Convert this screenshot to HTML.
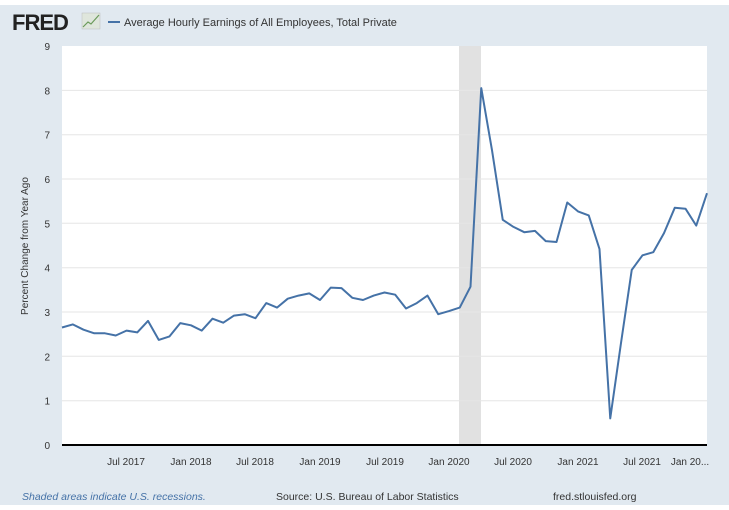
<!DOCTYPE html>
<html><head><meta charset="utf-8"><style>
html,body{margin:0;padding:0;background:#fff}
svg{display:block;font-family:"Liberation Sans","DejaVu Sans",sans-serif}
</style></head><body>
<svg width="729" height="510" viewBox="0 0 729 510" xmlns="http://www.w3.org/2000/svg">
<rect x="0" y="5" width="729" height="500" fill="#e1e9f0"/>
<rect x="62" y="46" width="645" height="399" fill="#fff"/>
<rect x="459" y="46" width="22" height="399" fill="#e1e1e1"/>
<g stroke="#e6e6e6" stroke-width="1">
<line x1="62" x2="707" y1="400.7" y2="400.7"/><line x1="62" x2="707" y1="356.3" y2="356.3"/>
<line x1="62" x2="707" y1="312" y2="312"/><line x1="62" x2="707" y1="267.7" y2="267.7"/>
<line x1="62" x2="707" y1="223.3" y2="223.3"/><line x1="62" x2="707" y1="179" y2="179"/>
<line x1="62" x2="707" y1="134.7" y2="134.7"/><line x1="62" x2="707" y1="90.4" y2="90.4"/>
</g>
<line x1="62" x2="707" y1="445" y2="445" stroke="#000" stroke-width="2"/>
<g font-size="10" fill="#333" text-anchor="end">
<text x="50" y="449">0</text><text x="50" y="404.7">1</text><text x="50" y="360.3">2</text>
<text x="50" y="316">3</text><text x="50" y="271.7">4</text><text x="50" y="227.3">5</text>
<text x="50" y="183">6</text><text x="50" y="138.7">7</text><text x="50" y="94.4">8</text><text x="50" y="50">9</text>
</g>
<text transform="translate(28,246) rotate(-90)" font-size="10" fill="#333" text-anchor="middle">Percent Change from Year Ago</text>
<g font-size="10" fill="#333" text-anchor="middle">
<text x="126" y="465">Jul 2017</text><text x="191" y="465">Jan 2018</text><text x="255" y="465">Jul 2018</text>
<text x="320" y="465">Jan 2019</text><text x="385" y="465">Jul 2019</text><text x="449" y="465">Jan 2020</text>
<text x="513" y="465">Jul 2020</text><text x="578" y="465">Jan 2021</text><text x="642" y="465">Jul 2021</text>
<text x="690" y="465">Jan 20...</text>
</g>
<polyline fill="none" stroke="#4572a7" stroke-width="2" stroke-linejoin="round" points="62,327.5 72.75,324.4 83.5,329.7 94.25,333.3 105,333.3 115.75,335.5 126.5,330.6 137.25,332.4 148,320.9 158.75,339.9 169.5,336.4 180.25,323.1 191,325.3 201.75,330.6 212.5,318.7 223.25,322.7 234,315.6 244.75,314.2 255.5,318.2 266.25,303.1 277,307.6 287.75,298.7 298.5,295.6 309.25,293.4 320,300 330.75,287.6 341.5,288.1 352.25,297.8 363,300 373.75,295.6 384.5,292.5 395.25,294.7 406,308.5 416.75,303.1 427.5,295.6 438.25,314.2 449,311.1 459.75,307.6 470.5,286.7 481.25,88.1 492,150.2 502.75,219.8 513.5,226.9 524.25,232.2 535,230.9 545.75,241.1 556.5,242 567.25,202.5 578,211.4 588.75,215.4 599.5,249.1 610.25,418.4 621,343 631.75,269.9 642.5,255.3 653.25,252.2 664,233.1 674.75,207.8 685.5,208.7 696.25,225.6 707,193.2"/>
<text x="12" y="30" font-size="22" font-weight="bold" fill="#222" letter-spacing="-1">FRED</text>
<rect x="82" y="13" width="18" height="16" fill="#dfe6dc" stroke="#bbb" stroke-width="0.5"/>
<polyline points="83,27 88,22 91,24 99,15" fill="none" stroke="#6a9a5a" stroke-width="1.2"/>
<line x1="108" y1="22" x2="120" y2="22" stroke="#4572a7" stroke-width="2"/>
<text x="124" y="26" font-size="11" fill="#333">Average Hourly Earnings of All Employees, Total Private</text>
<text x="22" y="500" font-size="10.5" font-style="italic" fill="#4572a7">Shaded areas indicate U.S. recessions.</text>
<text x="276" y="500" font-size="10.5" fill="#333">Source: U.S. Bureau of Labor Statistics</text>
<text x="553" y="500" font-size="10.5" fill="#333">fred.stlouisfed.org</text>
</svg>
</body></html>
